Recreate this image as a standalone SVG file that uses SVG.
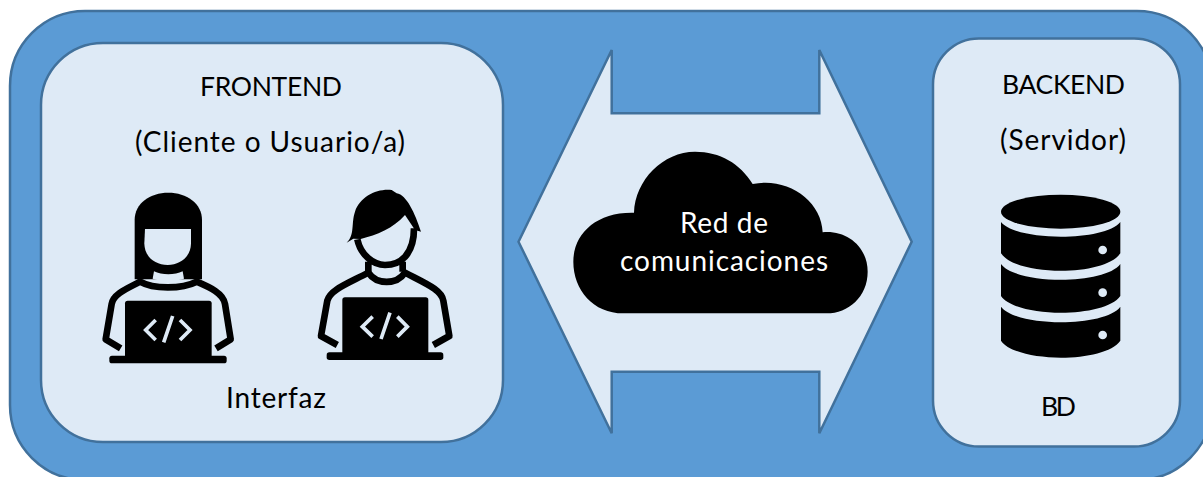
<svg xmlns="http://www.w3.org/2000/svg" width="1203" height="477" viewBox="0 0 1203 477">
<style>
.panel{fill:#deeaf6;stroke:#41719c;stroke-width:2.5}
.t{font-family:"Lato","Liberation Sans",sans-serif;font-size:28px;fill:#000}
.c{font-size:26.5px}
.w{fill:#fff}
.k{fill:#000}
.bg{fill:#deeaf6}
.arm{fill:none;stroke:#000;stroke-width:20;stroke-linejoin:round}
.code{fill:none;stroke:#deeaf6;stroke-width:11}
</style>
<rect width="1203" height="477" fill="#fff"/>
<g id="outer"><rect x="10" y="11" width="1202" height="469" rx="75" fill="#5b9bd5" stroke="#41719c" stroke-width="2.5"/></g>
<g id="connectors">
<polygon class="panel" points="518.5,241.7 611.7,50 611.7,113.3 819.3,113.3 819.3,50 911.7,241.7 819.3,433.3 819.3,371.7 611.7,371.7 611.7,433.3"/>
</g>
<g id="frontend">
<rect class="panel" x="41" y="43" width="462" height="399" rx="62"/>
<text class="t c" x="200" y="96" textLength="142">FRONTEND</text>
<text class="t" x="135" y="152" textLength="270">(Cliente o Usuario/a)</text>
<text class="t" x="226" y="408" textLength="100">Interfaz</text>
<g transform="translate(90 180) scale(.33333)">
<path class="k" d="M134 298V120C134 70 180 38 235 38C290 38 336 70 336 120V298Z"/>
<path class="bg" d="M165 147H303V190C303 230 270 255 233 255C195 255 163 230 163 190Z"/>
<path class="bg" d="M192 274C215 286 255 286 278 274L282 296C250 305 215 305 188 296Z"/>
<path class="arm" d="M92 505L47 478L65 372C70 340 120 322 150 305C190 328 275 328 320 305C360 322 400 340 405 372L422 478L378 505"/>
<rect class="k" x="105" y="362" width="260" height="175" rx="8"/>
<rect class="k" x="58" y="527" width="352" height="23" rx="8"/>
<path class="code" d="M197 420L167 450L197 480M248 408L221 487M270 420L300 450L270 480"/>
</g>
<g transform="translate(90 180) scale(.33333)">
<path class="k" d="M770 188C795 165 783 130 795 95C810 50 860 25 905 30L920 40C950 45 975 100 993 155L975 150L945 105C910 145 860 165 812 177L790 176Z"/>
<path class="arm" d="M802 178C812 225 850 255 885 255C930 255 972 225 972 145M835 245V275M938 245V275"/>
<path class="arm" d="M742 495L693 468L712 362C720 330 770 312 835 278C860 315 920 315 945 278C1010 312 1055 330 1060 362L1078 468L1030 495"/>
<rect class="k" x="757" y="352" width="258" height="175" rx="8"/>
<rect class="k" x="710" y="517" width="350" height="23" rx="8"/>
<path class="code" d="M848 410L817 440L848 470M900 398L873 477M922 410L952 440L922 470"/>
</g>
</g>
<g id="cloud">
<path class="k" transform="translate(510 40) scale(.33333)" d="M340 820C250 820 190 750 190 665C190 580 260 515 372 518C375 420 460 335 555 335C630 335 690 370 728 432C830 410 935 480 938 577C1010 570 1073 620 1073 695C1073 770 1015 820 950 820Z"/>
<text class="t w" x="680" y="233" textLength="88">Red de</text>
<text class="t w" x="620" y="271" textLength="208">comunicaciones</text>
</g>
<g id="backend">
<rect class="panel" x="933" y="38.5" width="247" height="408" rx="46"/>
<text class="t c" x="1002" y="94" textLength="123">BACKEND</text>
<text class="t" x="1000" y="150" textLength="126">(Servidor)</text>
<text class="t c" x="1041" y="416" textLength="35">BD</text>
<g transform="translate(920 20) scale(.33333)">
<ellipse class="k" cx="422" cy="575" rx="179" ry="51"/>
<path class="k" d="M243 606C290 665 555 665 601 606V700C555 770 290 770 243 700Z"/>
<path class="k" d="M243 732C290 795 555 795 601 732V828C555 895 290 895 243 828Z"/>
<path class="k" d="M243 860C290 922 555 922 601 860V962C555 1030 290 1030 243 962Z"/>
<circle class="bg" cx="548" cy="690" r="13"/>
<circle class="bg" cx="548" cy="818" r="13"/>
<circle class="bg" cx="548" cy="945" r="13"/>
</g>
</g>
</svg>
